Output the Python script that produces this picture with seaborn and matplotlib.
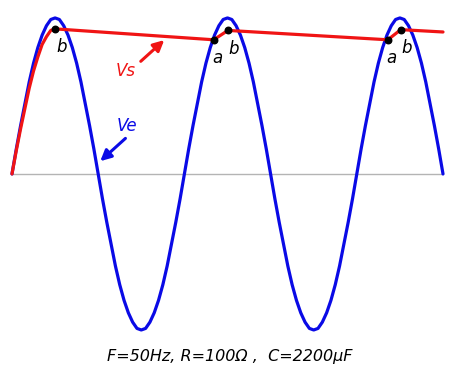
# plot of rectifier input Ve and smoothed output Vs

import matplotlib.pyplot as plt
import seaborn as sns

# time in ms (0.5 ms steps over 2.5 periods of 50 Hz), Ve in units of its peak
t_ve = [i * 0.5 for i in range(101)]
ve_half = [0.00, 0.16, 0.31, 0.45, 0.59, 0.71, 0.81, 0.89, 0.95, 0.99,
           1.00, 0.99, 0.95, 0.89, 0.81, 0.71, 0.59, 0.45, 0.31, 0.16]
ve = (ve_half + [-v for v in ve_half]) * 2 + ve_half + [0.00]

# Vs: rises with Ve to b, then discharges to a, recharges to b ...
t_vs = [0.0, 0.5, 1.0, 1.5, 2.0, 2.5, 3.0, 3.5, 4.0, 4.5, 5.0,
        23.4, 25.05, 43.6, 45.1, 50.0]
vs = [0.00, 0.15, 0.29, 0.42, 0.55, 0.66, 0.75, 0.83, 0.88, 0.92, 0.93,
      0.86, 0.92, 0.86, 0.925, 0.91]

pts_b_t = [5.0, 25.05, 45.1]
pts_b_v = [0.93, 0.92, 0.925]
pts_a_t = [23.4, 43.6]
pts_a_v = [0.86, 0.86]

caption = "F=50Hz, R=100Ω ,  C=2200µF"

sns.set_style("white")
plt.rcParams['font.family'] = ['DejaVu Sans']
plt.rcParams['text.color'] = 'black'

fig = plt.figure(figsize=(4.58, 3.76), dpi=100)
ax = fig.add_axes([0, 0, 1, 1])

ax.plot([0, 50], [0, 0], color='#b4b4b4', lw=1.0, zorder=1)
sns.lineplot(x=t_ve, y=ve, ax=ax, color='#0a0ae6', lw=2.3, estimator=None, zorder=2)
sns.lineplot(x=t_vs, y=vs, ax=ax, color='#f01414', lw=2.3, estimator=None, zorder=3)
ax.scatter(pts_b_t + pts_a_t, pts_b_v + pts_a_v, s=22, color='black', zorder=4)

for t, v in zip(pts_b_t, pts_b_v):
    ax.text(t + 0.1, v - 0.06, 'b', fontsize=12, style='italic', ha='left', va='top')
for t, v in zip(pts_a_t, pts_a_v):
    ax.text(t - 0.2, v - 0.06, 'a', fontsize=12, style='italic', ha='left', va='top')

ax.text(13.2, 0.66, 'Vs', fontsize=12, style='italic', color='#f01414', ha='center', va='center')
ax.annotate('', xy=(17.9, 0.87), xytext=(14.7, 0.71),
            arrowprops=dict(arrowstyle='-|>', color='#f01414', lw=2.2, mutation_scale=16))
ax.text(13.3, 0.31, 'Ve', fontsize=12, style='italic', color='#0a0ae6', ha='center', va='center')
ax.annotate('', xy=(10.0, 0.07), xytext=(13.4, 0.24),
            arrowprops=dict(arrowstyle='-|>', color='#0a0ae6', lw=2.2, mutation_scale=16))

ax.text(25.3, -1.17, caption, fontsize=11.5, style='italic', ha='center', va='center')

ax.set_xlim(-1.39, 51.74)
ax.set_ylim(-1.295, 1.115)
ax.axis('off')

plt.savefig('out.png', dpi=100)
